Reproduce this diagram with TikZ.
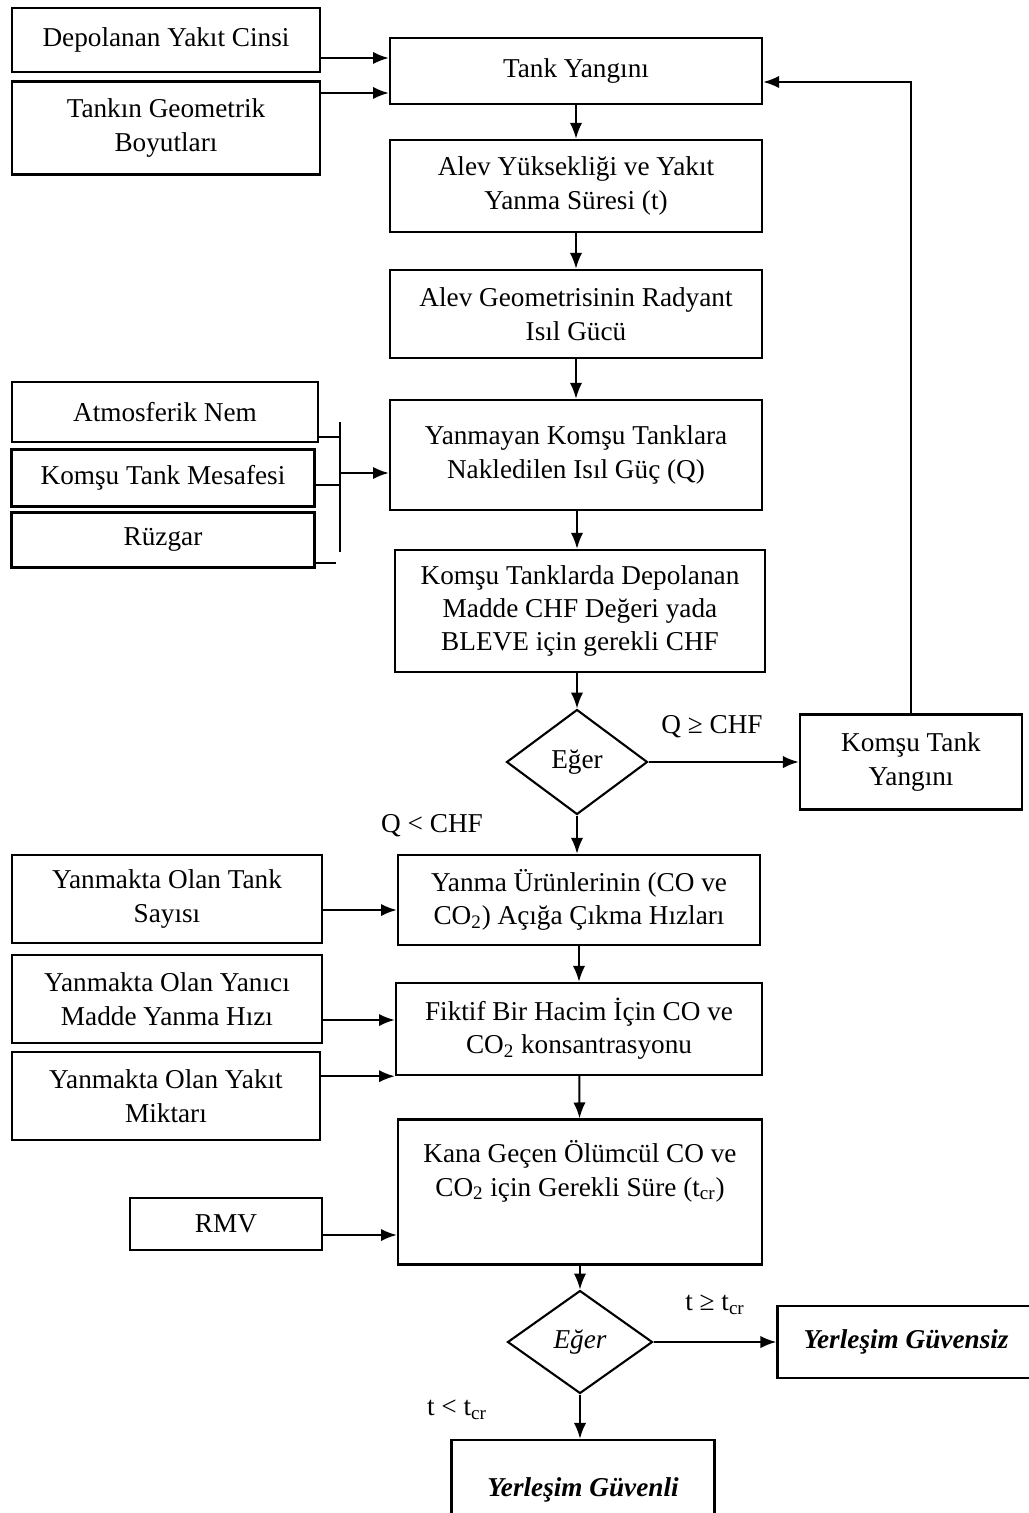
\documentclass[tikz,border=0pt]{standalone}
\usepackage{fontspec}
\setmainfont{Liberation Serif}
\usetikzlibrary{shapes.geometric, arrows.meta}

\tikzset{
  box/.style={draw, line width=1.4pt, align=center, inner sep=2pt,
    font=\fontsize{15.5}{19}\selectfont},
  decision/.style={draw, diamond, line width=1.2pt, inner sep=0pt,
    font=\fontsize{15.5}{19}\selectfont},
  arr/.style={-{Latex[length=9pt,width=7pt]}, line width=1.1pt},
  lbl/.style={font=\fontsize{15.5}{19}\selectfont}
}

\begin{document}
\begin{tikzpicture}[x=0.02cm, y=-0.02cm]
\useasboundingbox (0,0) rectangle (1028,1513);
% left inputs
\node[box, minimum width=6.16cm, minimum height=1.28cm] (yakit) at (166,40) {Depolanan Yakıt Cinsi};
\node[box, minimum width=6.16cm, minimum height=1.86cm] (geom) at (166,128) {Tankın Geometrik\\Boyutları};
\node[box, minimum width=6.12cm, minimum height=1.2cm] (nem) at (165,412) {Atmosferik Nem};
\node[box, minimum width=6.06cm, minimum height=1.14cm] (mesafe) at (163,478) {Komşu Tank Mesafesi};
\node[box, minimum width=6.06cm, minimum height=1.1cm] (ruzgar) at (163,540) {Rüzgar};
\node[box, minimum width=6.2cm, minimum height=1.76cm] (sayi) at (167,899) {Yanmakta Olan Tank\\Sayısı};
\node[box, minimum width=6.2cm, minimum height=1.76cm] (hiz) at (167,999) {Yanmakta Olan Yanıcı\\Madde Yanma Hızı};
\node[box, minimum width=6.16cm, minimum height=1.76cm] (miktar) at (166,1096) {Yanmakta Olan Yakıt\\Miktarı};
\node[box, minimum width=3.84cm, minimum height=1.04cm] (rmv) at (226,1224) {RMV};
% main column
\node[box, minimum width=7.44cm, minimum height=1.32cm] (yangin) at (576,71) {Tank Yangını};
\node[box, minimum width=7.44cm, minimum height=1.84cm] (alev) at (576,186) {Alev Yüksekliği ve Yakıt\\Yanma Süresi (t)};
\node[box, minimum width=7.44cm, minimum height=1.76cm] (radyant) at (576,314) {Alev Geometrisinin Radyant\\Isıl Gücü};
\node[box, minimum width=7.44cm, minimum height=2.2cm] (guc) at (576,455) {Yanmayan Komşu Tanklara\\Nakledilen Isıl Güç (Q)};
\node[box, minimum width=7.4cm, minimum height=2.44cm] (chf) at (580,611) {Komşu Tanklarda Depolanan\\Madde CHF Değeri yada\\BLEVE için gerekli CHF};
\node[decision, minimum width=2.82cm, minimum height=2.1cm] (eger1) at (577,762) {Eğer};
\node[box, minimum width=4.44cm, minimum height=1.9cm] (komsu) at (911,762) {Komşu Tank\\Yangını};
\node[box, minimum width=7.24cm, minimum height=1.8cm] (urun) at (579,900) {Yanma Ürünlerinin (CO ve\\CO\textsubscript{2}) Açığa Çıkma Hızları};
\node[box, minimum width=7.32cm, minimum height=1.84cm] (fiktif) at (579,1029) {Fiktif Bir Hacim İçin CO ve\\CO\textsubscript{2} konsantrasyonu};
\node[box, minimum width=7.28cm, minimum height=2.9cm] (kana) at (580,1192) {Kana Geçen Ölümcül CO ve\\CO\textsubscript{2} için Gerekli Süre (t\textsubscript{cr})\\[8pt]\mbox{}};
\node[decision, minimum width=2.9cm, minimum height=2.06cm] (eger2) at (580,1342) {\textit{Eğer}};
\node[box, minimum width=5.14cm, minimum height=1.44cm] (guvensiz) at (906,1342) {\textbf{\textit{Yerleşim Güvensiz}}};
\node[box, minimum width=5.26cm, minimum height=2cm] (guvenli) at (583,1490) {\textbf{\textit{Yerleşim Güvenli}}};
% inputs to tank fire
\draw[arr] ([yshift=-0.36cm]yakit.east) -- ([yshift=0.26cm]yangin.west);
\draw[arr] ([yshift=0.7cm]geom.east) -- ([yshift=-0.44cm]yangin.west);
% main flow
\draw[arr] (yangin) -- (alev);
\draw[arr] (alev) -- (radyant);
\draw[arr] (radyant) -- (guc);
\draw[arr] (chf.south -| eger1) -- (eger1.north);
\draw[arr] (guc.south -| eger1) -- (chf.north -| eger1);
\draw[arr] (eger1.south) -- (urun.north -| eger1);
\draw[arr] (urun) -- (fiktif);
\draw[arr] (fiktif) -- (kana);
\draw[arr] (kana) -- (eger2);
\draw[arr] (eger2.south) -- (guvenli.north -| eger2);
\draw[arr] (eger1.east) -- (komsu.west);
\draw[arr] (eger2.east) -- (guvensiz.west);
\draw[arr] (komsu.north) |- ([yshift=-0.22cm]yangin.east);
% bracket of weather inputs
\coordinate (bartop) at (340,422);
\coordinate (barbot) at (340,552);
\coordinate (bar) at (340,473);
\draw[line width=1.1pt] (bartop) -- (barbot);
\draw[line width=1.1pt] ([yshift=-0.5cm]nem.east) -- ([yshift=-0.5cm]nem.east -| bar);
\draw[line width=1.1pt] ([yshift=-0.14cm]mesafe.east) -- ([yshift=-0.14cm]mesafe.east -| bar);
\draw[line width=1.1pt] ([yshift=-0.46cm]ruzgar.east) -- ++(0.4cm,0);
\draw[arr] (bar) -- (bar -| guc.west);
% lower inputs
\draw[arr] ([yshift=-0.22cm]sayi.east) -- ([yshift=-0.22cm]sayi.east -| urun.west);
\draw[arr] ([yshift=-0.42cm]hiz.east) -- ([yshift=-0.42cm]hiz.east -| fiktif.west);
\draw[arr] (miktar.east |- fiktif.south) -- (fiktif.south west);
\draw[arr] ([yshift=-0.22cm]rmv.east) -- ([yshift=-0.22cm]rmv.east -| kana.west);
% condition labels
\node[lbl] (lq1) at (712,727) {Q ≥ CHF};
\node[lbl] (lq2) at (432,826) {Q < CHF};
\node[lbl] (lt1) at (715,1305) {t ≥ t\textsubscript{cr}};
\node[lbl] (lt2) at (457,1410) {t < t\textsubscript{cr}};
\end{tikzpicture}
\end{document}
